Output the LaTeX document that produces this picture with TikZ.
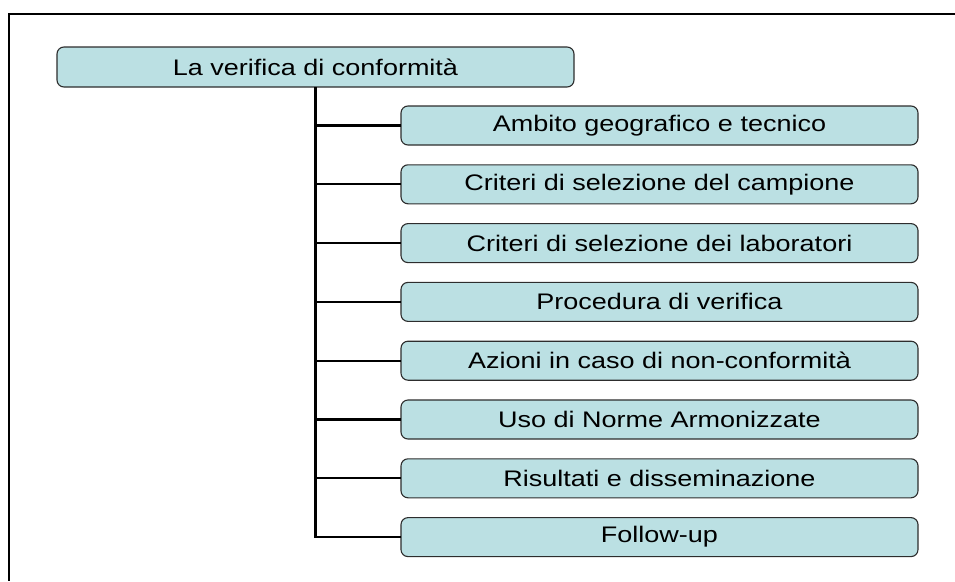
\documentclass[tikz,border=0pt]{standalone}
\usepackage{fontspec}
\setmainfont{Liberation Sans}[FakeStretch=1.2]
\usetikzlibrary{positioning}
\definecolor{boxfill}{RGB}{187,224,227}
\definecolor{boxline}{RGB}{45,45,45}

\tikzset{
	rootbox/.style={draw=boxline, fill=boxfill, rounded corners=7pt, line width=1.1pt,
		minimum width=517pt, minimum height=40pt, inner sep=0pt, outer sep=0pt,
		font=\fontsize{22.5}{26}\selectfont},
	itembox/.style={rootbox, minimum height=39pt},
	link/.style={draw=black, line width=2.3pt},
	frame/.style={draw=black, line width=2pt}
}

\begin{document}
\begin{tikzpicture}[x=1pt, y=1pt] %
		\useasboundingbox (0,0) rectangle (955,-581);
		% Frame
		\draw[frame] (955,-14) -- (9,-14) -- (9,-581);
		% Root
		\node[rootbox] (verifica) at (315.5,-67) {La verifica di conformità} ;
		% Items
		\node[itembox] (ambito) at (659.5,-125.5) {Ambito geografico e tecnico} ;
		\node[itembox, below=19.8pt of ambito] (campione) {Criteri di selezione del campione} ;
		\node[itembox, below=19.8pt of campione] (laboratori) {Criteri di selezione dei laboratori} ;
		\node[itembox, below=19.8pt of laboratori] (procedura) {Procedura di verifica} ;
		\node[itembox, below=19.8pt of procedura] (azioni) {Azioni in caso di non-conformità} ;
		\node[itembox, below=19.8pt of azioni] (norme) {Uso di Norme Armonizzate} ;
		\node[itembox, below=19.8pt of norme] (risultati) {Risultati e disseminazione} ;
		\node[itembox, below=19.8pt of risultati] (followup) {Follow-up} ;
		% Links
		\draw[link] (verifica.south) |- (followup.west) ;
		\foreach \item in {ambito,campione,laboratori,procedura,azioni,norme,risultati}
			\draw[link] (verifica.south |- \item.west) -- (\item.west) ;
	\end{tikzpicture}
\end{document}
